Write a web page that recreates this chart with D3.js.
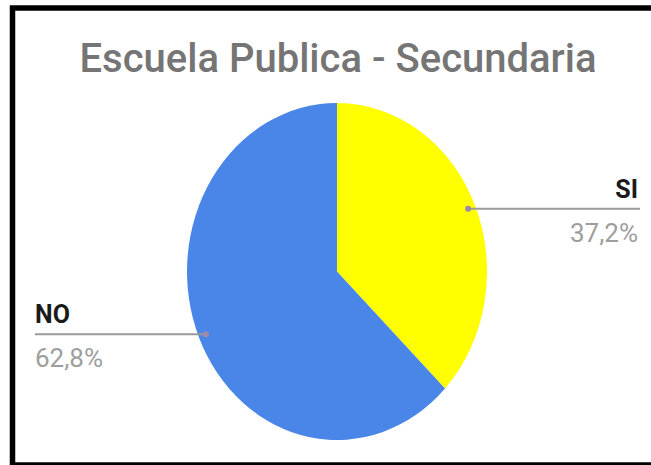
<!DOCTYPE html>
<html>
<head>
<meta charset="utf-8">
<script src="https://cdn.jsdelivr.net/npm/d3@7"></script>
<style>
  html, body { margin: 0; padding: 0; background: #fff; }
  svg { display: block; }
</style>
</head>
<body>
<svg id="chart" width="651" height="465"></svg>
<script>
const title = "Escuela Publica - Secundaria";
const categories = ["SI", "NO"];
const values = [37.2, 62.8];
const pctLabels = ["37,2%", "62,8%"];
const colors = ["#ffff00", "#4a86e8"];

const W = 651, H = 465;
const svg = d3.select("#chart");

svg.append("rect").attr("width", W).attr("height", H).attr("fill", "#fff");

// frame
svg.append("rect")
  .attr("x", 12.5).attr("y", 8)
  .attr("width", 700).attr("height", 457)
  .attr("fill", "none").attr("stroke", "#000").attr("stroke-width", 5.5);

svg.append("text")
  .attr("x", 338).attr("y", 72)
  .attr("text-anchor", "middle")
  .attr("font-family", "Roboto, sans-serif")
  .attr("font-size", 40)
  .attr("font-weight", 500)
  .attr("fill", "#757575")
  .text(title);

const cx = 337, cy = 271.5, R = 150, ry = 168.5;
const sy = ry / R;

const data = categories.map((c, i) => ({ cat: c, value: values[i], pct: pctLabels[i], color: colors[i] }));
const pie = d3.pie().sort(null).value(d => d.value);
const arcs = pie(data);
const arc = d3.arc().innerRadius(0).outerRadius(R);
const dotArc = d3.arc().innerRadius(R * 0.95).outerRadius(R * 0.95);

const g = svg.append("g").attr("transform", `translate(${cx},${cy}) scale(1,${sy})`);
g.selectAll("path.slice").data(arcs).enter().append("path")
  .attr("class", "slice")
  .attr("d", arc)
  .attr("fill", d => d.data.color);

// labels
arcs.forEach((a, i) => {
  const c = dotArc.centroid(a);
  const px = cx + c[0], py = cy + c[1] * sy;
  const right = c[0] > 0;
  const x0 = right ? px : 35;
  const x1 = right ? 640 : px;
  svg.append("line")
    .attr("x1", x0).attr("x2", x1).attr("y1", py).attr("y2", py)
    .attr("stroke", "#9a9a9a").attr("stroke-width", 2);
  svg.append("circle").attr("cx", px).attr("cy", py).attr("r", 3)
    .attr("fill", "#9a8aa8");
  const tx = right ? 638 : 35;
  const anchor = right ? "end" : "start";
  svg.append("text")
    .attr("x", tx).attr("y", py - 11)
    .attr("text-anchor", anchor)
    .attr("font-family", "Roboto, sans-serif")
    .attr("font-size", 25).attr("font-weight", 700)
    .attr("fill", "#1a1a1a")
    .text(a.data.cat);
  svg.append("text")
    .attr("x", tx).attr("y", py + 33)
    .attr("text-anchor", anchor)
    .attr("font-family", "Roboto, sans-serif")
    .attr("font-size", 26)
    .attr("fill", "#9e9e9e")
    .text(a.data.pct);
});
</script>
</body>
</html>
